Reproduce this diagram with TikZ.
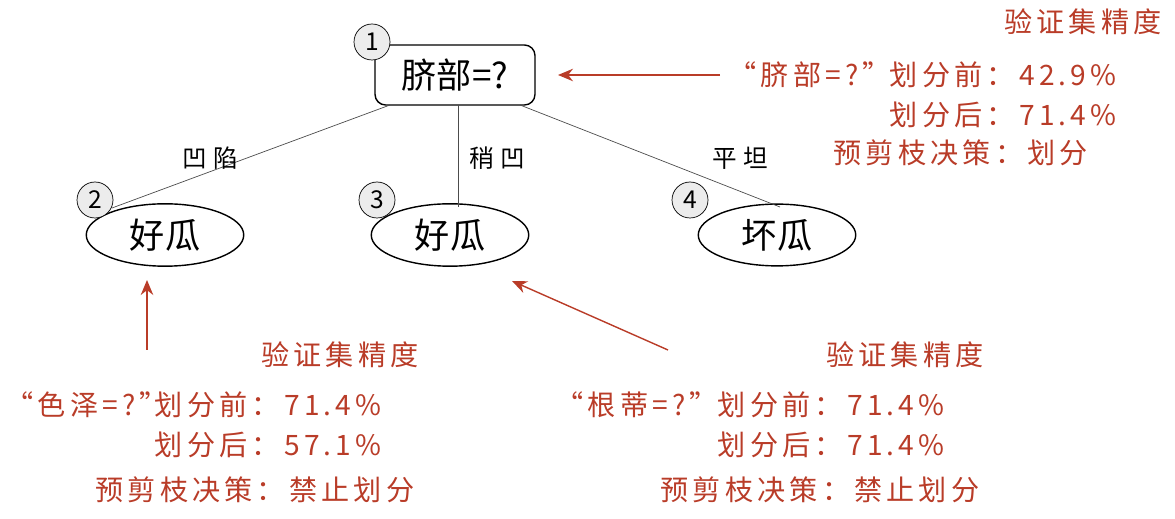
\documentclass[tikz,border=0pt]{standalone}
\usepackage{fontspec}
\setmainfont{Noto Sans CJK SC}
\newfontfamily\rfont[LetterSpace=15]{Noto Sans CJK SC}
\newfontfamily\lfont[LetterSpace=25]{Noto Sans CJK SC}
\usetikzlibrary{shapes.geometric,arrows.meta}
\definecolor{rd}{RGB}{185,60,40}
\tikzset{
 big/.style={font=\fontsize{20}{22}\selectfont},
 lab/.style={font=\lfont\fontsize{14}{16}\selectfont},
 rt/.style={text=rd,font=\rfont\fontsize{16}{18}\selectfont,inner sep=0pt},
 num/.style={circle,draw,fill=gray!15,minimum size=0.72cm,inner sep=0pt,font=\fontsize{14}{15}\selectfont},
 leaf/.style={ellipse,draw,thick,minimum width=3.15cm,minimum height=1.12cm,big},
 edge/.style={draw,gray!60!black},
 rarr/.style={draw=rd,thick,-{Stealth[length=3mm,width=2.5mm]}}
}
\begin{document}
\begin{tikzpicture}[x=0.02cm,y=-0.02cm]
\useasboundingbox (0,0) rectangle (1175,519);
\node[draw,thick,rounded corners=6pt,minimum width=3.2cm,minimum height=1.2cm,big] (r) at (455,75) {脐部=?};
\node[num] (n1) at (372,42) {1};
\node[leaf] (l2) at (165,235) {好瓜};
\node[leaf] (l3) at (450,235) {好瓜};
\node[leaf] (l4) at (777,235) {坏瓜};
\node[num] (n2) at (95,200) {2};
\node[num] (n3) at (377,200) {3};
\node[num] (n4) at (690,200) {4};
\coordinate (a1) at (390,105); \coordinate (b1) at (112,208);
\coordinate (a2) at (458,105); \coordinate (b2) at (458,207);
\coordinate (a3) at (520,105); \coordinate (b3) at (780,207);
\path[edge] (a1) -- (b1); \path[edge] (a2) -- (b2); \path[edge] (a3) -- (b3);
\node[lab] (e1) at (210,158) {凹陷};
\node[lab] (e2) at (497,158) {稍凹};
\node[lab] (e3) at (740,158) {平坦};
% top right
\node[rt,anchor=east] (t0) at (1162,22) {验证集精度};
\node[rt,anchor=west] (t1a) at (728,75) {“脐部=?”};
\node[rt,anchor=east] (t1) at (1117,75) {划分前：42.9\%};
\node[rt,anchor=east] (t2) at (1117,115) {划分后：71.4\%};
\node[rt,anchor=west] (t3) at (833,153) {预剪枝决策：划分};
\coordinate (p1) at (720,75); \coordinate (q1) at (558,75);
\path[rarr] (p1) -- (q1);
% bottom left
\coordinate (p2) at (147,350); \coordinate (q2) at (147,280);
\path[rarr] (p2) -- (q2);
\node[rt] (u0) at (340,355) {验证集精度};
\node[rt,anchor=west] (u1a) at (5,405) {“色泽=?”};
\node[rt,anchor=east] (u1) at (382,405) {划分前：71.4\%};
\node[rt,anchor=east] (u2) at (382,445) {划分后：57.1\%};
\node[rt,anchor=west] (u3) at (95,490) {预剪枝决策：禁止划分};
% bottom right
\coordinate (p3) at (668,350); \coordinate (q3) at (512,281);
\path[rarr] (p3) -- (q3);
\node[rt] (v0) at (905,355) {验证集精度};
\node[rt,anchor=west] (v1a) at (555,405) {“根蒂=?”};
\node[rt,anchor=east] (v1) at (945,405) {划分前：71.4\%};
\node[rt,anchor=east] (v2) at (945,445) {划分后：71.4\%};
\node[rt,anchor=west] (v3) at (660,490) {预剪枝决策：禁止划分};
\end{tikzpicture}
\end{document}
